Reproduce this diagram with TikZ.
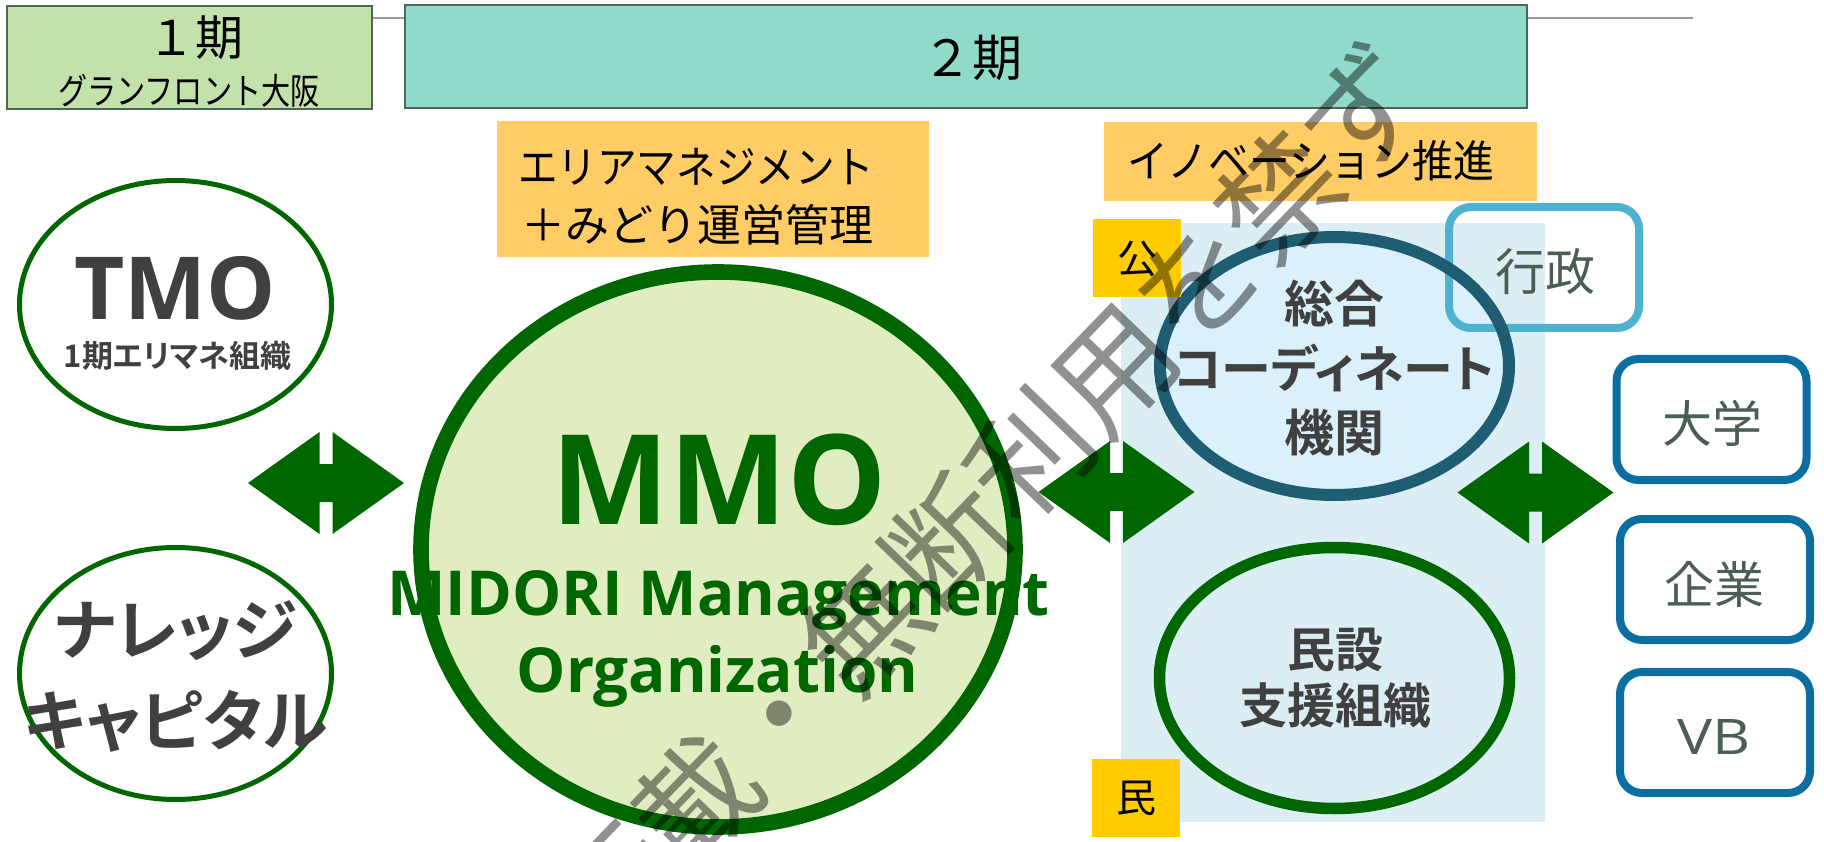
\documentclass[tikz,border=0pt]{standalone}
\usepackage{fontspec}
\setmainfont{Noto Sans CJK JP}[BoldFont={Noto Sans CJK JP Bold}]
\newfontfamily\jpp{Noto Sans CJK JP}[BoldFont={Noto Sans CJK JP Bold}, RawFeature=+palt]
\newfontfamily\lat{Open Sans}
\usetikzlibrary{shapes.geometric}
\newcommand\sz[2]{\fontsize{#1}{#2}\selectfont}
\definecolor{dgreen}{HTML}{006600}
\definecolor{p1fill}{HTML}{C3E1AB}
\definecolor{p2fill}{HTML}{90DAC9}
\definecolor{framecol}{HTML}{4E6657}
\definecolor{linegray}{HTML}{999999}
\definecolor{boxorange}{HTML}{FFCC66}
\definecolor{tagyellow}{HTML}{FFCC00}
\definecolor{bgblue}{HTML}{DBEEF4}
\definecolor{coordfill}{HTML}{DAF0FA}
\definecolor{coordring}{HTML}{1F5D72}
\definecolor{govblue}{HTML}{4CB2D0}
\definecolor{orgblue}{HTML}{0A6EA0}
\definecolor{darktext}{HTML}{404040}
\definecolor{boxtext}{HTML}{4A5E51}
\definecolor{mmofill}{HTML}{DFEDC1}
\tikzset{
  phasebox/.style={draw=framecol, line width=2.5},
  orangebox/.style={fill=boxorange},
  tagbox/.style={fill=tagyellow, minimum width=88, minimum height=78, font=\sz{40}{40}},
  leftell/.style={ellipse, draw=dgreen, line width=5, fill=white, minimum width=312},
  roundbox/.style={rounded corners=22, line width=8, minimum width=190, minimum height=121, fill=white, draw=orgblue, text=boxtext, font=\sz{50}{50}},
  dblarrow/.pic={\fill[dgreen] (-78,0) -- (-6.5,-51) -- (-6.5,-19) -- (6.5,-19) -- (6.5,-51) -- (78,0) -- (6.5,51) -- (6.5,19) -- (-6.5,19) -- (-6.5,51) -- cycle;}
}
\begin{document}
\begin{tikzpicture}[x=1pt,y=-1pt, every node/.style={inner sep=0pt, outer sep=0pt}]
\useasboundingbox (0,0) rectangle (1824,842);
% top time line
\coordinate (tlA) at (372,18);
\coordinate (tlB) at (1693,18);
\draw[linegray, line width=2] (tlA) -- (tlB);
% phase boxes
\node[phasebox, fill=p1fill, minimum width=365, minimum height=103] (p1) at (189.5,57.5) {};
\node[font=\sz{48}{48}] (p1t) at (195,38) {１期};
\node[font=\sz{36}{36}] (p1s) at (189,91) {\scalebox{0.81}[1]{グランフロント大阪}};
\node[phasebox, fill=p2fill, minimum width=1122, minimum height=103] (p2) at (966,56.5) {};
\node[font=\sz{50}{50}] (p2t) at (972,58) {２期};
% orange headers
\node[orangebox, minimum width=432, minimum height=136] (oa) at (713,189) {};
\node[anchor=west, font=\sz{44}{44}] (oa1) at (518,167) {\scalebox{0.9}[1]{エリアマネジメント}};
\node[anchor=west, font=\sz{44}{44}] (oa2) at (521,225) {＋みどり運営管理};
\node[orangebox, minimum width=433, minimum height=79] (ob) at (1320.5,161.5) {};
\node[anchor=west, font=\sz{44}{44}] (ob1) at (1127,161) {\scalebox{0.93}[1]{イノベーション推進}};
% blue region
\node[fill=bgblue, minimum width=424, minimum height=599] (bg) at (1333,522.5) {};
% left ellipses
\node[leftell, minimum height=248] (tmo) at (175.5,304.5) {};
\node[anchor=base, font=\lat\bfseries\sz{87}{87}, text=darktext] (tmot) at (175,320) {TMO};
\node[font=\jpp\bfseries\sz{31}{31}, text=darktext] (tmos) at (177.5,356) {1期エリマネ組織};
\node[leftell, minimum height=252] (kc) at (175.5,673.5) {};
\node[align=center, font=\jpp\bfseries\sz{66}{91}, text=darktext] (kct) at (176,676.5) {ナレッジ\\キャピタル};
% MMO
\node[ellipse, draw=dgreen, line width=15.6, fill=mmofill, minimum width=594, minimum height=555] (mmo) at (718,549.5) {};
\node[anchor=base, font=\lat\bfseries\sz{125}{125}, text=dgreen] (mmot) at (719,524) {MMO};
\node[anchor=base, font=\lat\bfseries\sz{62}{62}, text=dgreen] (mmo1) at (718.5,615) {MIDORI Management};
\node[anchor=base, font=\lat\bfseries\sz{62}{62}, text=dgreen] (mmo2) at (717.5,692) {Organization};
% coordination body
\node[ellipse, fill=coordfill, minimum width=349, minimum height=258] (co) at (1334.5,366) {};
\node[roundbox, draw=govblue, fill=none] (gov) at (1544,267.5) {};
\node[ellipse, draw=coordring, line width=12, minimum width=349, minimum height=258] (coring) at (co.center) {};
\node[font=\sz{50}{50}, text=boxtext] (govt) at (1545,271.5) {行政};
\node[align=center, font=\jpp\bfseries\sz{50}{64.5}, text=darktext] (cot) at (1334,368) {総合\\コーディネート\\機関};
% private support
\node[ellipse, draw=dgreen, line width=11.5, minimum width=350, minimum height=261] (ps) at (1334.5,678) {};
\node[align=center, font=\jpp\bfseries\sz{48}{56}, text=darktext] (pst) at (1335,678) {民設\\支援組織};
% tags
\node[tagbox] (pub) at (1137,258.5) {公};
\node[tagbox] (pri) at (1136,798) {民};
% right boxes
\node[roundbox] (univ) at (1711.5,419.5) {};
\node[font=\sz{50}{50}, text=boxtext] (univt) at (1712.5,423.5) {大学};
\node[roundbox] (corp) at (1715,579.5) {};
\node[font=\sz{50}{50}, text=boxtext] (corpt) at (1714.5,584) {企業};
\node[roundbox] (vb) at (1715,732.5) {};
\node[font=\lat\sz{49}{49}, text=boxtext] (vbt) at (1714,737.5) {\scalebox{1.2}[1]{VB}};
% arrows
\pic (arrL) at (326,483) {dblarrow};
\pic (arrM) at (1116.5,492) {dblarrow};
\pic (arrR) at (1535.5,492.5) {dblarrow};
% watermark
\begin{scope}
\clip (0,0) rectangle (1824,842);
\node[rotate=46, font=\sz{120}{120}, text=black, text opacity=0.43] (wm) at (905,585) {無断転載・無断利用を禁ず};
\end{scope}
\end{tikzpicture}
\end{document}
